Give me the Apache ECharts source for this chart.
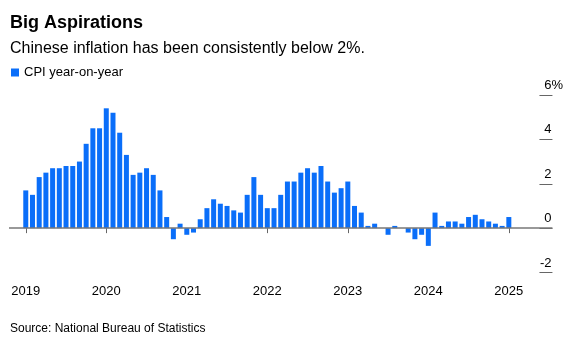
<!DOCTYPE html>
<html>
<head>
<meta charset="utf-8">
<script src="https://cdn.jsdelivr.net/npm/echarts@6/dist/echarts.min.js"></script>
<style>
html,body{margin:0;padding:0;background:#fff;}
#chart{width:566px;height:337px;}
</style>
</head>
<body>
<div id="chart"></div>
<script>
// Monthly CPI year-on-year (%), Jan 2019 – Jan 2025
const startYear = 2019;
const cpi = [
  1.7, 1.5, 2.3, 2.5, 2.7, 2.7, 2.8, 2.8, 3.0, 3.8, 4.5, 4.5,
  5.4, 5.2, 4.3, 3.3, 2.4, 2.5, 2.7, 2.4, 1.7, 0.5, -0.5, 0.2,
  -0.3, -0.2, 0.4, 0.9, 1.3, 1.1, 1.0, 0.8, 0.7, 1.5, 2.3, 1.5,
  0.9, 0.9, 1.5, 2.1, 2.1, 2.5, 2.7, 2.5, 2.8, 2.1, 1.6, 1.8,
  2.1, 1.0, 0.7, 0.1, 0.2, 0.0, -0.3, 0.1, 0.0, -0.2, -0.5, -0.3,
  -0.8, 0.7, 0.1, 0.3, 0.3, 0.2, 0.5, 0.6, 0.4, 0.3, 0.2, 0.1,
  0.5
];
const padBefore = 2;   // empty months before Jan 2019
const padAfter = 6;    // empty months after last value
const yTicks = [-2, 0, 2, 4, 6];

const categories = [];
const seriesData = [];
const total = padBefore + cpi.length + padAfter;
for (let i = 0; i < total; i++) {
  const m = i - padBefore; // months since Jan 2019
  const year = startYear + Math.floor(m / 12);
  const month = ((m % 12) + 12) % 12;
  categories.push(year + '-' + String(month + 1).padStart(2, '0'));
  seriesData.push(m >= 0 && m < cpi.length ? cpi[m] : '-');
}
const isJan = (idx, val) => categories[idx].endsWith('-01');
const yMin = yTicks[0], yMax = yTicks[yTicks.length - 1];

const chart = echarts.init(document.getElementById('chart'), null, {renderer: 'canvas'});
const font = 'Liberation Sans, Arial, Helvetica, sans-serif';
const yLabelBase = {
  inside: false, verticalAlign: 'bottom', padding: [0, 0, 3, 0],
  fontFamily: font, fontSize: 13, color: '#000'
};
chart.setOption({
  animation: false,
  textStyle: {fontFamily: font},
  title: [
    {text: 'Big Aspirations', left: 5, top: 9,
     textStyle: {fontFamily: font, fontSize: 18, fontWeight: 'bold', color: '#000'}},
    {text: 'Chinese inflation has been consistently below 2%.', left: 5, top: 36,
     textStyle: {fontFamily: font, fontSize: 16, fontWeight: 'normal', color: '#000'}},
    {text: 'Source: National Bureau of Statistics', left: 5, top: 318,
     textStyle: {fontFamily: font, fontSize: 12, fontWeight: 'normal', color: '#000'}}
  ],
  legend: {
    left: 6, top: 61, itemWidth: 8, itemHeight: 8, itemGap: 6,
    icon: 'rect',
    textStyle: {fontFamily: font, fontSize: 13, color: '#000'},
    data: ['CPI year-on-year']
  },
  grid: {left: 9, right: 13, top: 95, bottom: 64.5, containLabel: false},
  xAxis: {
    type: 'category',
    data: categories,
    boundaryGap: true,
    axisLine: {show: false},
    axisTick: {show: true, alignWithLabel: true, interval: isJan, length: 5,
               lineStyle: {color: '#666', width: 1}},
    axisLabel: {interval: isJan, formatter: v => v.slice(0, 4), margin: 12,
                fontFamily: font, fontSize: 13, color: '#000'},
    splitLine: {show: false}
  },
  yAxis: [{
    type: 'value',
    position: 'right',
    min: yMin, max: yMax, interval: 2,
    axisLine: {show: false},
    axisTick: {show: true, inside: true, length: 13, lineStyle: {color: '#666', width: 1}},
    splitLine: {show: false},
    axisLabel: Object.assign({align: 'right', margin: -1, formatter: v => String(v)}, yLabelBase)
  }, {
    // unit suffix shown only beside the top tick label
    type: 'value',
    position: 'right',
    min: yMin, max: yMax, interval: 2,
    axisLine: {show: false},
    axisTick: {show: false},
    splitLine: {show: false},
    axisLabel: Object.assign({align: 'left', margin: -1, formatter: v => v === yMax ? '%' : ''}, yLabelBase)
  }],
  series: [{
    name: 'CPI year-on-year',
    type: 'bar',
    data: seriesData,
    barWidth: 5,
    itemStyle: {color: '#0a6ef9'},
    markLine: {
      silent: true, symbol: 'none', label: {show: false},
      lineStyle: {color: '#777', width: 1.5, type: 'solid'},
      data: [{yAxis: 0}]
    }
  }]
});
</script>
</body>
</html>
